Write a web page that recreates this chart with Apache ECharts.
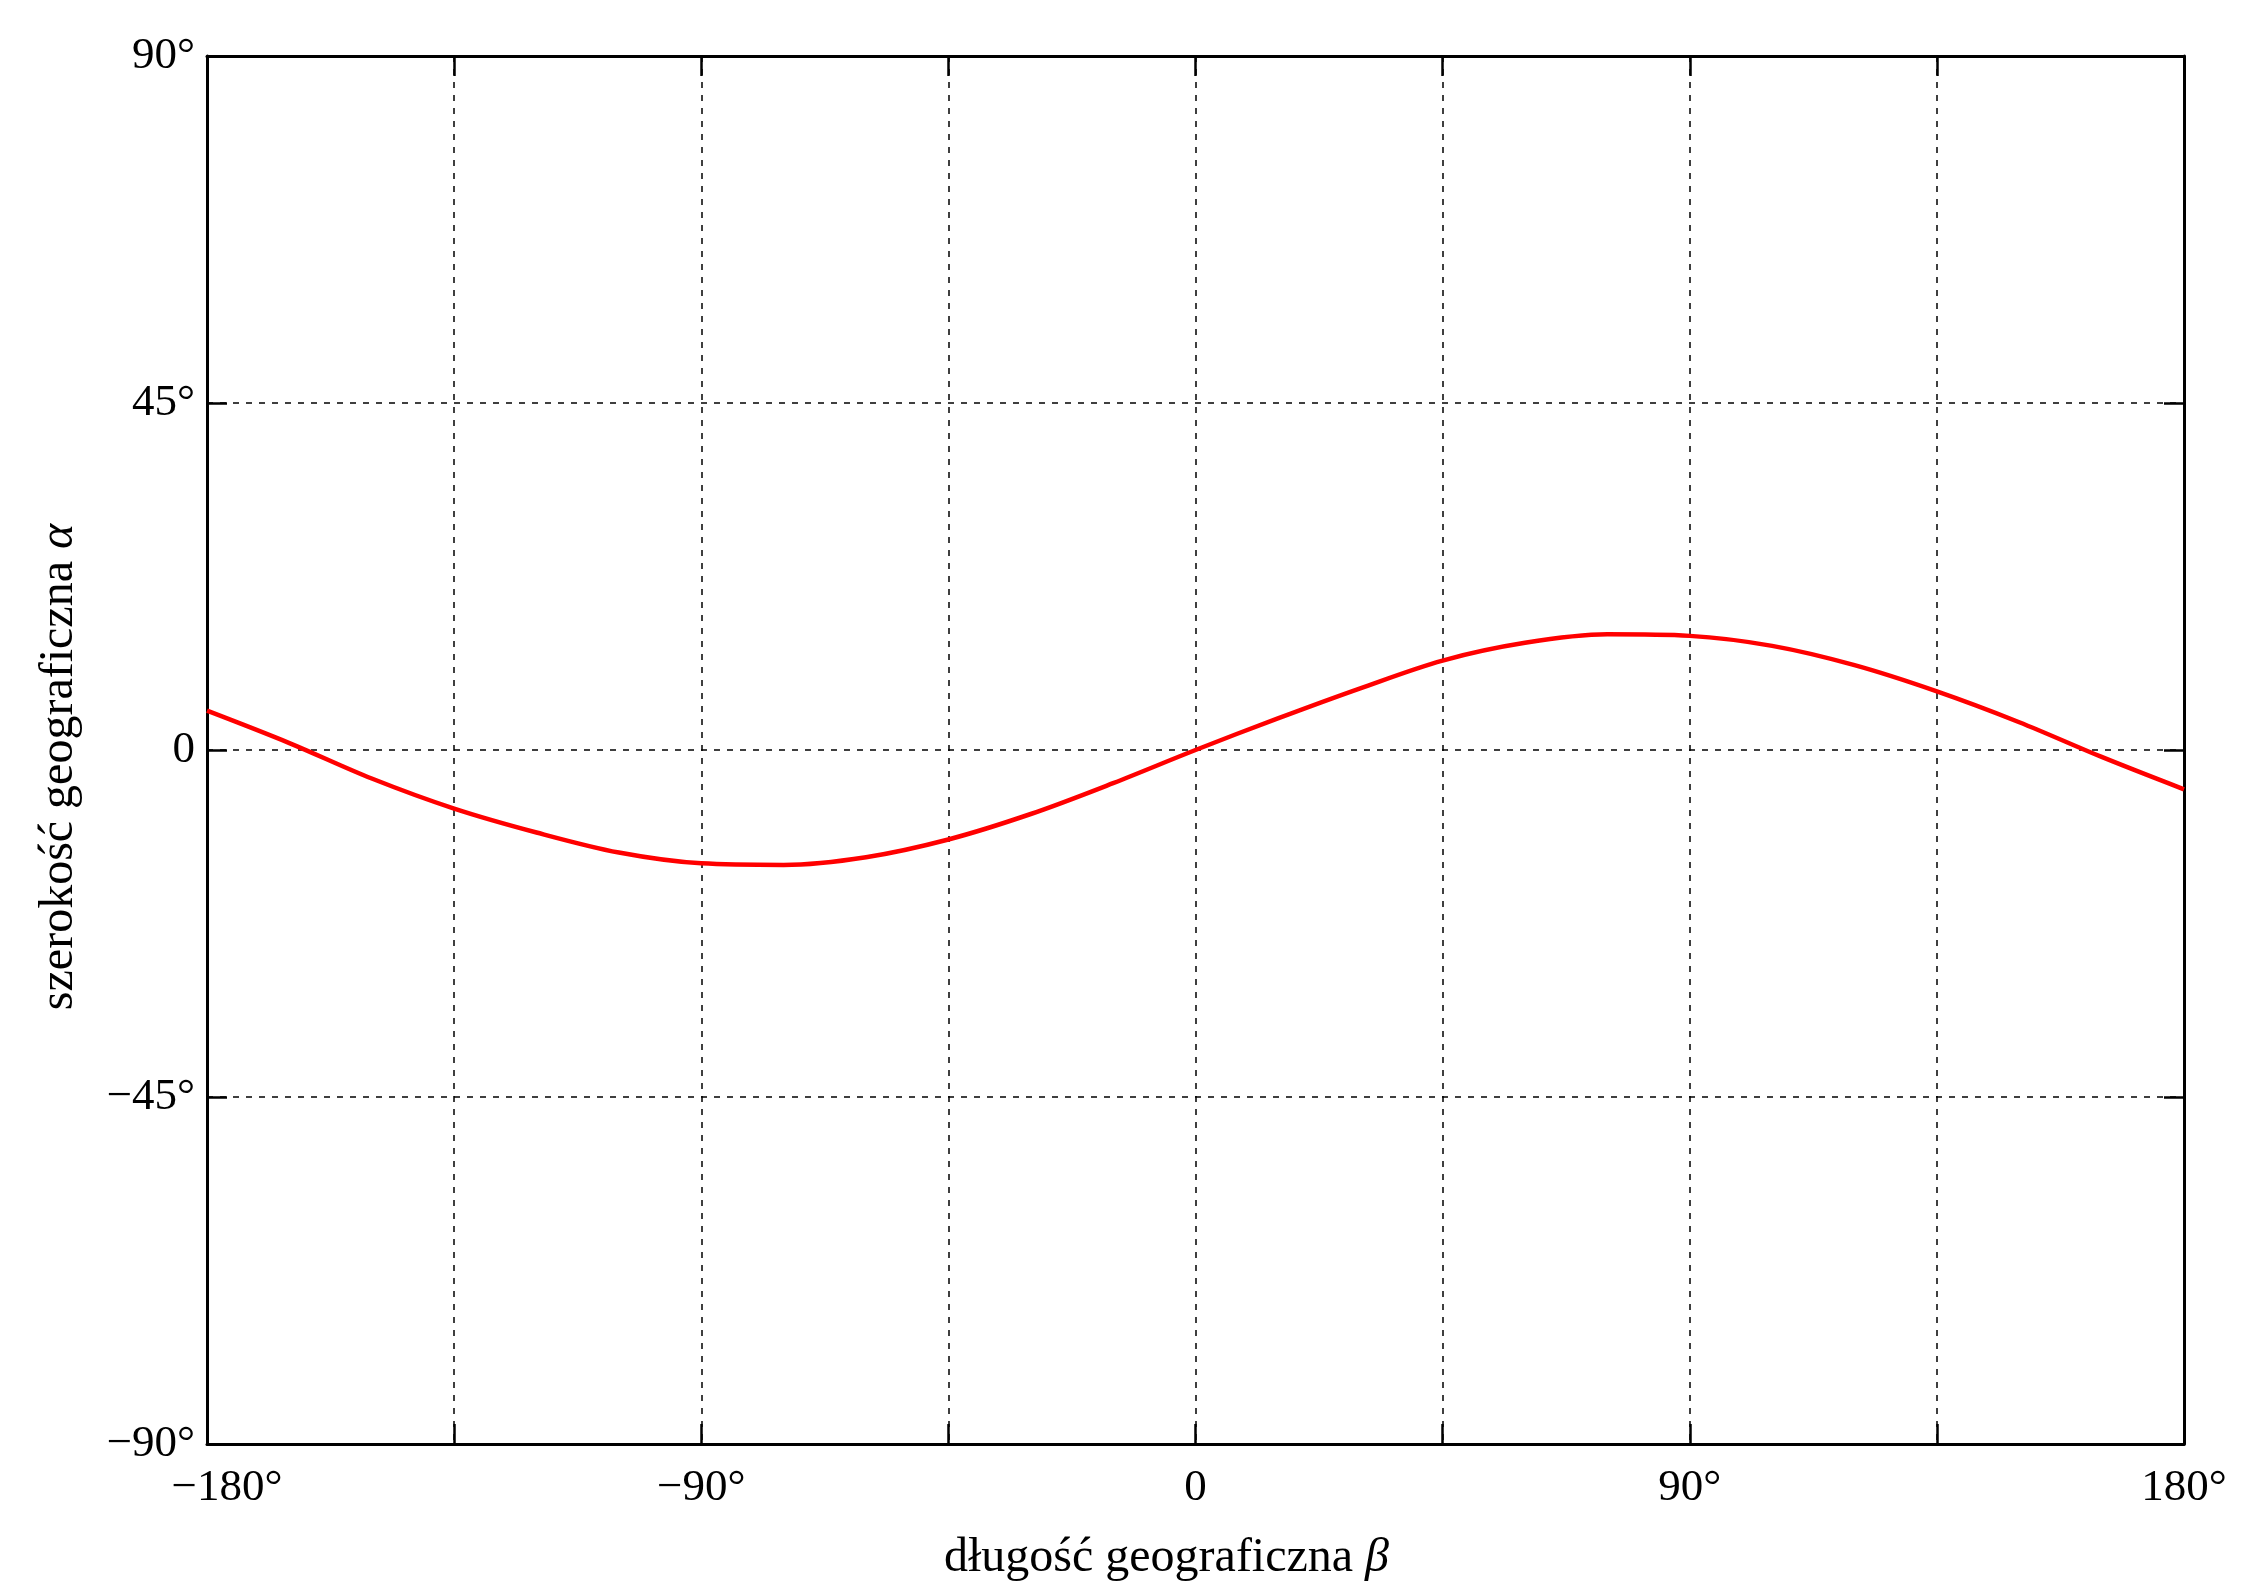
<!DOCTYPE html>
<html>
<head>
<meta charset="utf-8">
<title>szerokość geograficzna</title>
<script src="https://cdn.jsdelivr.net/npm/echarts@6/dist/echarts.min.js"></script>
<style>
  html, body { margin: 0; padding: 0; background: #fff; }
  #chart { width: 2265px; height: 1583px; }
</style>
</head>
<body>
<div id="chart"></div>
<script>
// długość geograficzna (beta), co 15 stopni
const lonDeg = [-180, -165, -150, -135, -120, -105, -90, -75, -60, -45, -30, -15, 0,
  15, 30, 45, 60, 75, 90, 105, 120, 135, 150, 165, 180]
// szerokość geograficzna (alfa)
const latDeg = [5.1, 0.9, -3.7, -7.6, -10.7, -13.3, -14.7, -14.9, -13.9, -11.6, -8.3, -4.3, 0,
  4.1, 8.0, 11.6, 13.9, 15.0, 14.8, 13.5, 11.0, 7.6, 3.6, -0.9, -5.1]
// podpisane wartości na osiach
const xTickLabels = [-180, -90, 0, 90, 180]
const yTickLabels = [-90, -45, 0, 45, 90]

const FONT = '"Liberation Serif", "DejaVu Serif", serif'

function degLabel (v) {
  if (v === 0) return '0'
  return (v < 0 ? '\u2212' + Math.abs(v) : String(v)) + '°'
}

const chart = echarts.init(document.getElementById('chart'), null, { renderer: 'canvas' })

const tickStyle = { show: true, inside: true, length: 20, lineStyle: { color: '#000', width: 2.5 } }
const frameLine = { show: true, onZero: false, lineStyle: { color: '#000', width: 3 } }
const dashed = { show: true, lineStyle: { color: '#000', width: 1.5, type: [6, 7] } }

const option = {
  backgroundColor: '#fff',
  animation: false,
  grid: {
    left: 207,
    right: 81,
    top: 56,
    bottom: 139,
    containLabel: false,
    outerBoundsMode: 'none'
  },
  xAxis: [
    {
      type: 'value',
      position: 'bottom',
      min: -180,
      max: 180,
      interval: 45,
      axisLine: frameLine,
      axisTick: tickStyle,
      splitLine: dashed,
      axisLabel: {
        margin: 22,
        fontFamily: FONT,
        fontSize: 45,
        color: '#000',
        formatter: (v) => {
          if (xTickLabels.indexOf(v) < 0) return ''
          if (v === -180) return '{s|' + degLabel(v) + '}'
          return degLabel(v)
        },
        rich: {
          s: { fontFamily: FONT, fontSize: 45, color: '#000', padding: [0, 0, 0, 40] }
        }
      },
      name: '{n|długość geograficzna }{g|β}',
      nameLocation: 'middle',
      nameGap: 90,
      nameTextStyle: {
        padding: [0, 58, 0, 0],
        rich: {
          n: { fontFamily: FONT, fontSize: 48, color: '#000' },
          g: { fontFamily: FONT, fontSize: 48, color: '#000', fontStyle: 'italic' }
        }
      }
    },
    {
      type: 'value',
      position: 'top',
      min: -180,
      max: 180,
      interval: 45,
      axisLine: frameLine,
      axisTick: tickStyle,
      axisLabel: { show: false },
      splitLine: { show: false }
    }
  ],
  yAxis: [
    {
      type: 'value',
      position: 'left',
      min: -90,
      max: 90,
      interval: 45,
      axisLine: frameLine,
      axisTick: tickStyle,
      splitLine: dashed,
      axisLabel: {
        margin: 12,
        fontFamily: FONT,
        fontSize: 45,
        color: '#000',
        formatter: (v) => yTickLabels.indexOf(v) < 0 ? '' : degLabel(v)
      },
      name: '{n|szerokość geograficzna }{g|α}',
      nameLocation: 'middle',
      nameGap: 124,
      nameRotate: 90,
      nameTextStyle: {
        padding: [0, 34, 0, 0],
        rich: {
          n: { fontFamily: FONT, fontSize: 48, color: '#000' },
          g: { fontFamily: FONT, fontSize: 48, color: '#000', fontStyle: 'italic' }
        }
      }
    },
    {
      type: 'value',
      position: 'right',
      min: -90,
      max: 90,
      interval: 45,
      axisLine: frameLine,
      axisTick: tickStyle,
      axisLabel: { show: false },
      splitLine: { show: false }
    }
  ],
  series: [
    {
      type: 'line',
      xAxisIndex: 0,
      yAxisIndex: 0,
      data: lonDeg.map((lon, i) => [lon, latDeg[i]]),
      smooth: 0.33,
      showSymbol: false,
      clip: true,
      lineStyle: { color: '#f00', width: 4.5 },
      z: 5
    }
  ]
}

chart.setOption(option)
</script>
</body>
</html>
